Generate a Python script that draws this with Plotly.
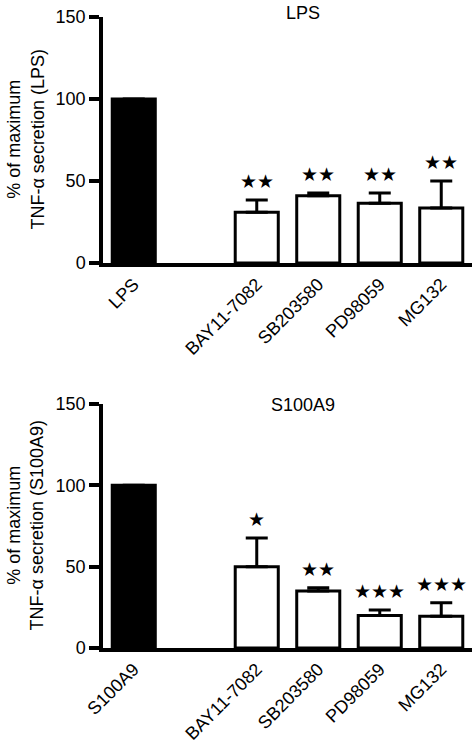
import plotly.graph_objects as go

# ---- data ----
categories_top = ["LPS", "BAY11-7082", "SB203580", "PD98059", "MG132"]
values_top = [100, 31, 41, 36.5, 33.5]
errors_top = [0, 7.5, 1.7, 6.2, 16.5]
stars_top = ["", "★★", "★★", "★★", "★★"]

categories_bottom = ["S100A9", "BAY11-7082", "SB203580", "PD98059", "MG132"]
values_bottom = [100, 50, 35, 20, 19.5]
errors_bottom = [0, 17.6, 2, 3.4, 8.3]
stars_bottom = ["", "★", "★★", "★★★", "★★★"]

fill_colors = ["black", "white", "white", "white", "white"]
y_ticks = [0, 50, 100, 150]

FONT = "Liberation Sans, Arial, Helvetica, sans-serif"
AXW = 3.5

def axis_order(cats):
    return [cats[0], " "] + cats[1:]

fig = go.Figure()

for cats, vals, errs, xa, ya in [
    (categories_top, values_top, errors_top, "x", "y"),
    (categories_bottom, values_bottom, errors_bottom, "x2", "y2"),
]:
    fig.add_trace(go.Bar(
        x=cats, y=vals, xaxis=xa, yaxis=ya, width=0.7,
        marker=dict(color=fill_colors, line=dict(color="black", width=3)),
        error_y=dict(type="data", array=errs, arrayminus=[0] * len(errs),
                     symmetric=False, thickness=3, width=11, color="black"),
        showlegend=False, hoverinfo="skip",
    ))

annotations = []
for cats, vals, errs, stars, xa, ya in [
    (categories_top, values_top, errors_top, stars_top, "x", "y"),
    (categories_bottom, values_bottom, errors_bottom, stars_bottom, "x2", "y2"),
]:
    for c, v, e, s in zip(cats, vals, errs, stars):
        if s:
            annotations.append(dict(
                x=c, y=v + e, xref=xa, yref=ya, text=s, showarrow=False,
                yanchor="bottom", yshift=6,
                font=dict(family="DejaVu Sans", size=19, color="black"),
            ))

# panel titles
annotations.append(dict(x=0.542, y=150, xref="x domain", yref="y", text="LPS",
                        showarrow=False, yanchor="middle", yshift=4,
                        font=dict(family=FONT, size=18, color="black")))
annotations.append(dict(x=0.542, y=150, xref="x2 domain", yref="y2", text="S100A9",
                        showarrow=False, yanchor="middle", yshift=-1,
                        font=dict(family=FONT, size=18, color="black")))
# y titles
annotations.append(dict(x=-0.21, y=0.5, xref="x domain", yref="y domain",
                        text="% of maximum<br>TNF-α secretion (LPS)", textangle=-90,
                        showarrow=False, xanchor="center", yanchor="middle",
                        font=dict(family=FONT, size=18, color="black")))
annotations.append(dict(x=-0.21, y=0.5, xref="x2 domain", yref="y2 domain",
                        text="% of maximum<br>TNF-α secretion (S100A9)", textangle=-90,
                        showarrow=False, xanchor="center", yanchor="middle",
                        font=dict(family=FONT, size=18, color="black")))

xcommon = dict(range=[-0.5, 5.5], showline=True, linecolor="black", linewidth=AXW,
               ticks="", tickangle=-45, showgrid=False, zeroline=False,
               categoryorder="array", automargin=False,
               tickfont=dict(family=FONT, size=18, color="black"))
ycommon = dict(range=[0, 150], showline=True, linecolor="black", linewidth=AXW,
               ticks="outside", ticklen=10, tickwidth=AXW, tickcolor="black",
               tickvals=y_ticks, showgrid=False, zeroline=False, automargin=False,
               ticklabeloverflow="allow",
               tickfont=dict(family=FONT, size=18, color="black"))

fig.update_layout(
    width=475, height=750,
    margin=dict(l=103, r=3, t=17, b=102),
    paper_bgcolor="white", plot_bgcolor="white",
    xaxis=dict(xcommon, anchor="y", categoryarray=axis_order(categories_top)),
    yaxis=dict(ycommon, anchor="x", domain=[0.6101, 1.0]),
    xaxis2=dict(xcommon, anchor="y2", categoryarray=axis_order(categories_bottom)),
    yaxis2=dict(ycommon, anchor="x2", domain=[0.0, 0.3867]),
    annotations=annotations,
    bargap=0.3,
)

# remove the browser's default 8px body margin so the figure fills the window
fig.write_html("out.html", config={"displayModeBar": False},
               post_script="document.body.style.margin='0';document.body.style.overflow='hidden';")
